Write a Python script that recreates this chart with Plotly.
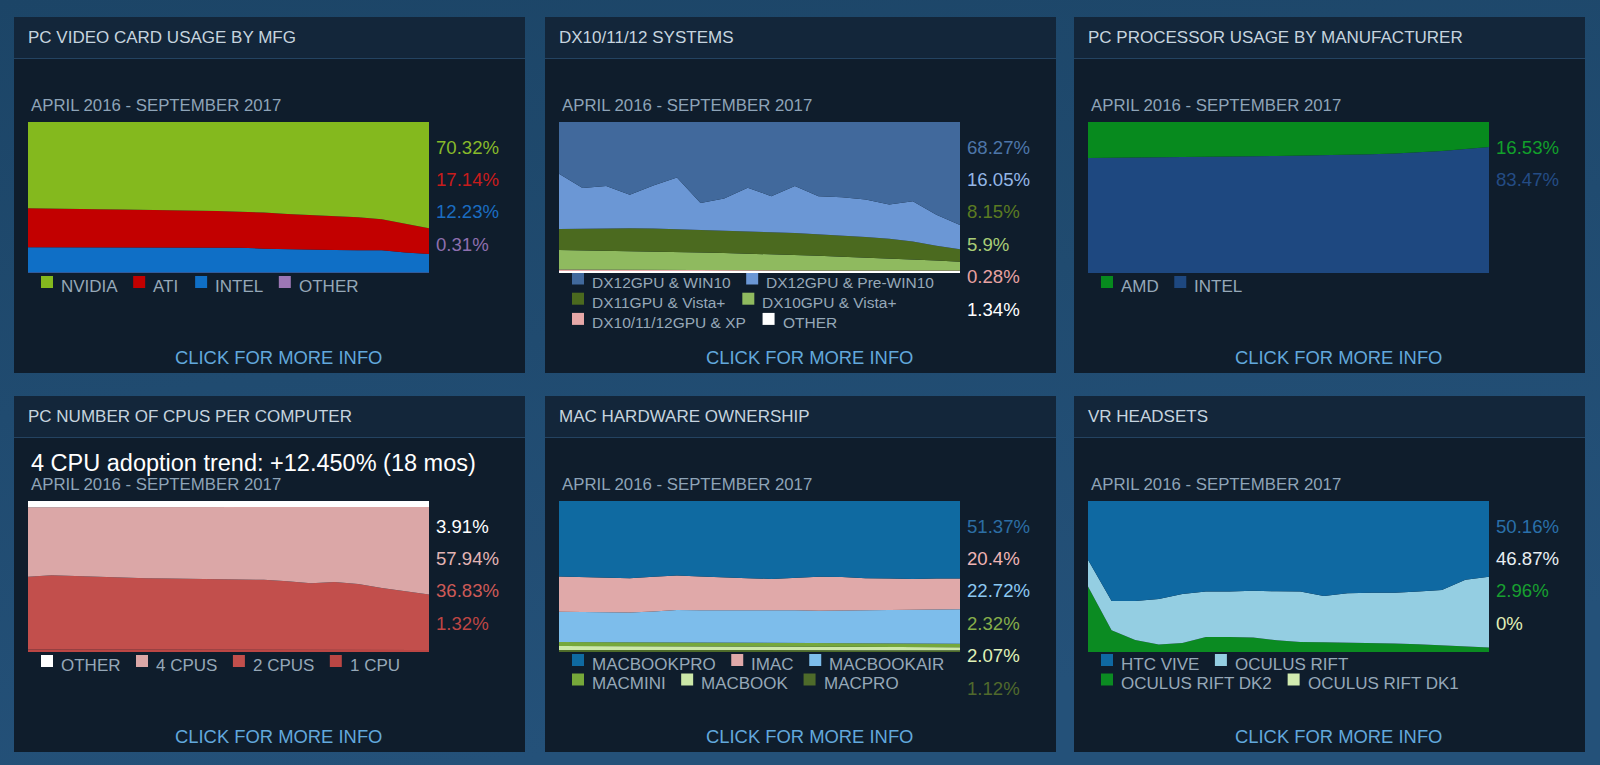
import base64
import plotly.graph_objects as go

W, H = 1600, 765
FONT = "Liberation Sans, Arial, sans-serif"

MONTHS = ["2016-04", "2016-05", "2016-06", "2016-07", "2016-08", "2016-09",
          "2016-10", "2016-11", "2016-12", "2017-01", "2017-02", "2017-03",
          "2017-04", "2017-05", "2017-06", "2017-07", "2017-08", "2017-09"]
PERIOD = "APRIL 2016 - SEPTEMBER 2017"

# ---------- Panel 1: video card by manufacturer ----------
VC_NAMES = ["NVIDIA", "ATI", "INTEL", "OTHER"]
VC_NVIDIA = [57.2, 57.5, 57.5, 57.7, 57.9, 58.1, 58.4, 58.6, 59.0, 59.5, 59.9, 61.0, 61.7, 62.4, 63.0, 64.4, 67.5, 70.32]
VC_ATI = [25.7, 25.4, 25.3, 25.2, 25.0, 24.9, 24.6, 24.5, 24.1, 23.7, 24.0, 23.3, 22.8, 22.4, 21.9, 20.6, 18.9, 17.14]
VC_INTEL = [16.8, 16.8, 16.9, 16.8, 16.8, 16.7, 16.7, 16.6, 16.6, 16.5, 15.8, 15.4, 15.2, 14.9, 14.8, 14.7, 13.3, 12.23]
VC_OTHER = [0.3, 0.3, 0.3, 0.3, 0.3, 0.3, 0.3, 0.3, 0.3, 0.3, 0.3, 0.3, 0.3, 0.3, 0.3, 0.3, 0.3, 0.31]
VC_LABELS = ["70.32%", "17.14%", "12.23%", "0.31%"]

# ---------- Panel 2: DX systems ----------
DX_NAMES = ["DX12GPU & WIN10", "DX12GPU & Pre-WIN10", "DX11GPU & Vista+",
            "DX10GPU & Vista+", "DX10/11/12GPU & XP", "OTHER"]
DX_WIN10 = [34.2, 43.7, 42.4, 48.2, 42.0, 36.8, 53.6, 50.7, 43.5, 49.1, 42.4, 49.1, 49.8, 51.3, 54.7, 52.5, 61.4, 68.27]
DX_PREWIN10 = [36.6, 26.9, 27.9, 22.1, 28.6, 34.2, 17.8, 21.3, 29.0, 23.9, 31.1, 25.2, 25.4, 24.9, 22.7, 26.7, 20.5, 16.05]
DX_DX11 = [14.0, 14.4, 14.9, 15.2, 15.1, 15.0, 15.0, 14.7, 14.6, 14.5, 14.5, 14.3, 14.1, 13.6, 13.0, 11.9, 9.9, 8.15]
DX_DX10 = [12.9, 12.8, 12.6, 12.4, 12.2, 12.1, 11.7, 11.5, 11.1, 10.7, 10.3, 9.7, 9.0, 8.5, 8.0, 7.3, 6.6, 5.9]
DX_XP = [0.9, 0.8, 0.8, 0.7, 0.7, 0.6, 0.6, 0.5, 0.5, 0.5, 0.4, 0.4, 0.4, 0.4, 0.3, 0.3, 0.3, 0.28]
DX_OTHER = [1.4, 1.4, 1.4, 1.4, 1.4, 1.3, 1.3, 1.3, 1.3, 1.3, 1.3, 1.3, 1.3, 1.3, 1.3, 1.3, 1.3, 1.34]
DX_LABELS = ["68.27%", "16.05%", "8.15%", "5.9%", "0.28%", "1.34%"]

# ---------- Panel 3: processor by manufacturer ----------
CPU_NAMES = ["AMD", "INTEL"]
CPU_AMD = [23.8, 23.7, 23.5, 23.4, 23.2, 23.0, 22.8, 22.7, 22.5, 22.3, 22.1, 21.8, 21.4, 20.9, 20.2, 19.2, 17.8, 16.53]
CPU_INTEL = [76.2, 76.3, 76.5, 76.6, 76.8, 77.0, 77.2, 77.3, 77.5, 77.7, 77.9, 78.2, 78.6, 79.1, 79.8, 80.8, 82.2, 83.47]
CPU_LABELS = ["16.53%", "83.47%"]

# ---------- Panel 4: number of CPUs ----------
NC_NAMES = ["OTHER", "4 CPUS", "2 CPUS", "1 CPU"]
NC_OTHER = [4.2, 4.2, 4.1, 4.1, 4.1, 4.0, 4.0, 4.0, 4.0, 4.0, 3.9, 3.9, 3.9, 3.9, 3.9, 3.9, 3.9, 3.91]
NC_4CPU = [46.0, 44.9, 45.5, 46.1, 46.6, 47.1, 47.3, 47.6, 47.8, 47.8, 48.3, 49.2, 50.6, 49.7, 51.0, 53.7, 55.9, 57.94]
NC_2CPU = [48.1, 49.2, 48.7, 48.2, 47.7, 47.3, 47.1, 46.9, 46.7, 46.7, 46.3, 45.5, 44.1, 45.0, 43.7, 41.0, 38.9, 36.83]
NC_1CPU = [1.7, 1.7, 1.7, 1.6, 1.6, 1.6, 1.6, 1.5, 1.5, 1.5, 1.5, 1.4, 1.4, 1.4, 1.4, 1.4, 1.3, 1.32]
NC_LABELS = ["3.91%", "57.94%", "36.83%", "1.32%"]
NC_TREND = "4 CPU adoption trend: +12.450% (18 mos)"

# ---------- Panel 5: Mac hardware ----------
MAC_NAMES = ["MACBOOKPRO", "IMAC", "MACBOOKAIR", "MACMINI", "MACBOOK", "MACPRO"]
MAC_MBP = [50.0, 50.4, 50.9, 51.1, 50.2, 49.3, 50.0, 50.7, 51.1, 51.6, 51.1, 50.2, 50.4, 51.1, 51.3, 51.6, 51.3, 51.37]
MAC_IMAC = [23.3, 23.2, 22.9, 22.7, 22.9, 22.9, 22.4, 21.7, 21.1, 20.6, 21.3, 22.5, 22.3, 21.3, 20.9, 20.4, 20.3, 20.4]
MAC_MBAIR = [20.0, 19.8, 19.6, 19.7, 20.4, 21.4, 21.3, 21.3, 21.6, 21.7, 21.6, 21.3, 21.4, 21.8, 22.1, 22.3, 22.8, 22.72]
MAC_MINI = [2.8, 2.8, 2.8, 2.7, 2.7, 2.7, 2.6, 2.6, 2.6, 2.5, 2.5, 2.5, 2.5, 2.4, 2.4, 2.4, 2.4, 2.32]
MAC_MACBOOK = [2.5, 2.5, 2.5, 2.5, 2.5, 2.4, 2.4, 2.4, 2.4, 2.4, 2.3, 2.3, 2.2, 2.2, 2.1, 2.1, 2.1, 2.07]
MAC_PRO = [1.4, 1.3, 1.3, 1.3, 1.3, 1.3, 1.3, 1.3, 1.2, 1.2, 1.2, 1.2, 1.2, 1.2, 1.2, 1.2, 1.1, 1.12]
MAC_LABELS = ["51.37%", "20.4%", "22.72%", "2.32%", "2.07%", "1.12%"]

# ---------- Panel 6: VR headsets ----------
VR_NAMES = ["HTC VIVE", "OCULUS RIFT", "OCULUS RIFT DK2", "OCULUS RIFT DK1"]
VR_VIVE = [38.9, 66.2, 66.2, 64.9, 61.6, 60.0, 60.0, 59.5, 59.8, 60.0, 62.9, 61.1, 60.7, 60.7, 60.0, 58.9, 52.2, 50.16]
VR_RIFT = [17.8, 19.4, 25.8, 30.2, 32.4, 30.0, 30.0, 30.9, 32.4, 33.3, 30.7, 32.7, 33.1, 33.7, 34.9, 36.7, 43.8, 46.87]
VR_DK2 = [43.3, 14.4, 8.0, 4.9, 6.0, 10.0, 10.0, 9.6, 7.8, 6.7, 6.4, 6.2, 6.2, 5.6, 5.1, 4.4, 4.0, 2.96]
VR_DK1 = [0, 0, 0, 0, 0, 0, 0, 0, 0, 0, 0, 0, 0, 0, 0, 0, 0, 0]
VR_LABELS = ["50.16%", "46.87%", "2.96%", "0%"]

TITLES = ["PC VIDEO CARD USAGE BY MFG", "DX10/11/12 SYSTEMS", "PC PROCESSOR USAGE BY MANUFACTURER",
          "PC NUMBER OF CPUS PER COMPUTER", "MAC HARDWARE OWNERSHIP", "VR HEADSETS"]

# ---------- styling ----------
PANELS = [
    dict(names=VC_NAMES, series=[VC_NVIDIA, VC_ATI, VC_INTEL, VC_OTHER], labels=VC_LABELS,
         fill=["#84b91e", "#c20000", "#0f6fc6", "#9c77b5"],
         lab=["#88ba2a", "#c81c1c", "#1b6dc2", "#8e6fae"],
         rows=[[0, 1, 2, 3]], leg_y=269, leg_fs=17, step=20),
    dict(names=DX_NAMES, series=[DX_WIN10, DX_PREWIN10, DX_DX11, DX_DX10, DX_XP, DX_OTHER], labels=DX_LABELS,
         fill=["#41699c", "#6b97d5", "#4b6a1f", "#8fba5f", "#e6a8a8", "#ffffff"],
         lab=["#4d76a9", "#94b6e6", "#5b7b22", "#a9cd77", "#e8a2a2", "#ffffff"],
         rows=[[0, 1], [2, 3], [4, 5]], leg_y=265.5, leg_fs=15.5, step=20.2),
    dict(names=CPU_NAMES, series=[CPU_AMD, CPU_INTEL], labels=CPU_LABELS,
         fill=["#078a1e", "#1e4880"],
         lab=["#12a02b", "#244c85"],
         rows=[[0, 1]], leg_y=269, leg_fs=17, step=20),
    dict(names=NC_NAMES, series=[NC_OTHER, NC_4CPU, NC_2CPU, NC_1CPU], labels=NC_LABELS,
         fill=["#ffffff", "#dba7a7", "#c24f4c", "#bb4644"],
         lab=["#ffffff", "#e2b4b4", "#cd5a57", "#be4644"],
         rows=[[0, 1, 2, 3]], leg_y=269, leg_fs=17, step=20),
    dict(names=MAC_NAMES, series=[MAC_MBP, MAC_IMAC, MAC_MBAIR, MAC_MINI, MAC_MACBOOK, MAC_PRO], labels=MAC_LABELS,
         fill=["#0f6aa1", "#e0a9a9", "#7dbdeb", "#76a83a", "#cce8a8", "#4e6b2a"],
         lab=["#2c6ea4", "#f0b4b4", "#8cc8f2", "#86ad4a", "#e0f2b8", "#50692c"],
         rows=[[0, 1, 2], [3, 4, 5]], leg_y=268, leg_fs=17, step=19.5),
    dict(names=VR_NAMES, series=[VR_VIVE, VR_RIFT, VR_DK2, VR_DK1], labels=VR_LABELS,
         fill=["#0f69a2", "#94cee2", "#0b8b22", "#d2ecb0"],
         lab=["#2a70aa", "#e8eef2", "#18a030", "#e2f0b8"],
         rows=[[0, 1], [2, 3]], leg_y=268, leg_fs=17, step=19.5),
]

PANEL_X = [14, 545, 1074]
PANEL_Y = [17, 396]
PW, PH = 511, 356
BODY = "#0f1d2c"
TITLEBAR = "#13263a"
SEP = "#244361"
TITLE_C = "#c6d4df"
SUB_C = "#8ea4b8"
LEG_C = "#96a8b8"
LINK_C = "#62a8dc"

AW = {' ': 278, '&': 667, '+': 584, '-': 333, '/': 278, '.': 278, '%': 889, '(': 333, ')': 333, ':': 278,
      'A': 667, 'B': 667, 'C': 722, 'D': 722, 'E': 667, 'F': 611, 'G': 778, 'H': 722, 'I': 278, 'J': 500,
      'K': 667, 'L': 556, 'M': 833, 'N': 722, 'O': 778, 'P': 667, 'Q': 778, 'R': 722, 'S': 667, 'T': 611,
      'U': 722, 'V': 667, 'W': 944, 'X': 667, 'Y': 667, 'Z': 611,
      'a': 556, 'b': 556, 'c': 500, 'd': 556, 'e': 556, 'f': 278, 'g': 556, 'h': 556, 'i': 222, 'j': 222,
      'k': 500, 'l': 222, 'm': 833, 'n': 556, 'o': 556, 'p': 556, 'q': 556, 'r': 333, 's': 500, 't': 278,
      'u': 556, 'v': 500, 'w': 722, 'x': 500, 'y': 500, 'z': 500}


def tw(s, size):
    return sum(AW.get(c, 556) for c in s) / 1000.0 * size


def X(px):
    return px / W


def Y(py):
    return 1 - py / H


def rect(x0, y0, x1, y1, color):
    return dict(type="rect", xref="paper", yref="paper", x0=X(x0), x1=X(x1), y0=Y(y1), y1=Y(y0),
                fillcolor=color, line=dict(width=0), layer="below")


def text(x, y, s, size, color, anchor="left"):
    return dict(xref="paper", yref="paper", x=X(x), y=Y(y), text=s, showarrow=False,
                xanchor=anchor, yanchor="middle", borderpad=0, borderwidth=0,
                font=dict(family=FONT, size=size, color=color))


svg = ('<svg xmlns="http://www.w3.org/2000/svg" width="1600" height="765">'
       '<defs><linearGradient id="g" x1="0" y1="0" x2="0.3" y2="1">'
       '<stop offset="0" stop-color="#1c4567"/><stop offset="1" stop-color="#245179"/>'
       '</linearGradient></defs><rect width="1600" height="765" fill="url(#g)"/></svg>')
bg_src = "data:image/svg+xml;base64," + base64.b64encode(svg.encode()).decode()

fig = go.Figure()
shapes, annotations, layout_axes = [], [], {}

for k, p in enumerate(PANELS):
    col, row = k % 3, k // 3
    x0, y0 = PANEL_X[col], PANEL_Y[row]
    shapes.append(rect(x0, y0, x0 + PW, y0 + PH, BODY))
    shapes.append(rect(x0, y0, x0 + PW, y0 + 41, TITLEBAR))
    shapes.append(rect(x0, y0 + 41, x0 + PW, y0 + 42, SEP))
    annotations.append(text(x0 + 14, y0 + 20.5, TITLES[k], 17, TITLE_C))
    annotations.append(text(x0 + 17, y0 + 88.5, PERIOD, 16.8, SUB_C))
    annotations.append(text(x0 + 264, y0 + 340, "CLICK FOR MORE INFO", 18.4, LINK_C, "center"))

    sfx = "" if k == 0 else str(k + 1)
    layout_axes["xaxis" + sfx] = dict(domain=[X(x0 + 14), X(x0 + 415)], anchor="y" + sfx, type="category",
                                      range=[0, len(MONTHS) - 1], visible=False, fixedrange=True)
    layout_axes["yaxis" + sfx] = dict(domain=[Y(y0 + 256), Y(y0 + 105)], anchor="x" + sfx,
                                      range=[0, 100], visible=False, fixedrange=True)

    n = len(p["names"])
    first = True
    for i in reversed(range(n)):
        tr = dict(x=MONTHS, y=p["series"][i], name=p["names"][i], mode="lines", stackgroup="g%d" % k,
                  line=dict(width=0, color=p["fill"][i]), fillcolor=p["fill"][i],
                  xaxis="x" + sfx, yaxis="y" + sfx, hoverinfo="skip", showlegend=False)
        if first:
            tr["groupnorm"] = "percent"
            first = False
        fig.add_trace(go.Scatter(**tr))

    for i, lab in enumerate(p["labels"]):
        annotations.append(text(x0 + 422, y0 + 130 + 32.4 * i, lab, 18.6, p["lab"][i]))

    fs = p["leg_fs"]
    for r, items in enumerate(p["rows"]):
        cy = y0 + p["leg_y"] + r * p["step"]
        cx = x0 + 27
        for i in items:
            shapes.append(rect(cx, cy - 10, cx + 12, cy + 2, p["fill"][i]))
            annotations.append(text(cx + 20, cy, p["names"][i], fs, LEG_C))
            cx = cx + 20 + tw(p["names"][i], fs) + 15.5

    if k == 3:
        annotations.append(text(x0 + 17, y0 + 67.5, NC_TREND, 23.5, "#ffffff"))

fig.update_layout(
    width=W, height=H, margin=dict(l=0, r=0, t=0, b=0),
    paper_bgcolor="#1f4a6e", plot_bgcolor="rgba(0,0,0,0)",
    showlegend=False, shapes=shapes, annotations=annotations,
    images=[dict(source=bg_src, xref="paper", yref="paper", x=0, y=1, sizex=1, sizey=1,
                 xanchor="left", yanchor="top", sizing="stretch", layer="below")],
    **layout_axes,
)

PAGE_JS = ("document.body.style.margin='0';document.body.style.padding='0';"
           "document.body.style.overflow='hidden';document.body.style.background='#1f4a6e';")
fig.write_html("out.html", post_script=PAGE_JS, config={"displayModeBar": False})
